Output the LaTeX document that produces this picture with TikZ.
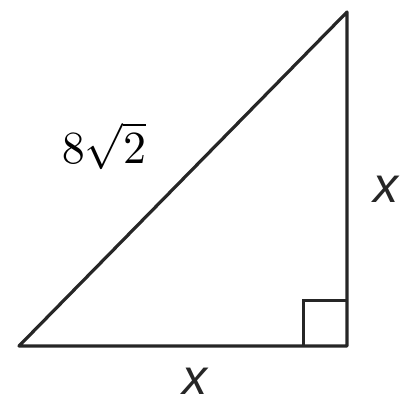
\documentclass[tikz,border=0pt]{standalone}
\usepackage{fontspec}
\newfontfamily\labfont{Liberation Sans}
\begin{document}
\begin{tikzpicture}[x=1pt,y=-1pt,
  edge/.style={line width=3.2pt, draw=black!85, line join=round, line cap=round},
  sidelab/.style={font=\labfont\itshape\fontsize{50}{50}\selectfont, inner sep=0pt, text=black!85}]
\useasboundingbox (0,0) rectangle (402,402);
\coordinate (A) at (19,346);
\coordinate (B) at (347,346);
\coordinate (C) at (347,12);
\draw[edge] (A) -- (B) -- (C) -- cycle;
\coordinate (S1) at (303,346);
\coordinate (S2) at (303,300);
\coordinate (S3) at (347,300);
\draw[line width=3pt, draw=black!85] (S1) -- (S2) -- (S3);
\node[inner sep=0pt, scale=4.6] (hyp) at (104,146) {$8\sqrt{2}$};
\node[sidelab] (xb) at (195,381) {x};
\node[sidelab] (xr) at (386,189) {x};
\end{tikzpicture}
\end{document}
